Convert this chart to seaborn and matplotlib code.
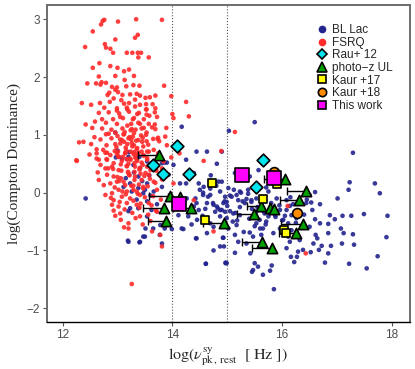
import numpy as np
import pandas as pd
import seaborn as sns
import matplotlib.pyplot as plt
from matplotlib.lines import Line2D

# --- background samples (log nu_pk, log CD) ---
fsrq_x = [12.76, 12.73, 13.01, 13.34, 13.81, 12.70, 12.55, 13.37, 13.32, 12.96, 12.41, 12.77, 12.79, 12.87,
          12.92, 13.17, 13.27, 13.37, 13.43, 13.38, 13.57, 12.67, 12.55, 12.87, 13.00, 13.21, 13.12, 12.66,
          12.96, 13.30, 13.13, 12.45, 12.61, 12.69, 12.71, 12.79, 12.90, 12.99, 13.16, 13.29, 13.40, 13.85,
          12.96, 12.85, 13.01, 12.82, 13.09, 13.23, 13.35, 13.41, 13.69, 13.59, 13.98, 12.93, 13.07, 13.32,
          13.51, 12.35, 12.52, 12.68, 12.86, 13.12, 13.21, 13.41, 13.52, 13.64, 12.76, 12.99, 13.18, 13.32,
          13.53, 13.69, 12.66, 12.84, 13.03, 13.21, 13.39, 13.53, 13.72, 14.00, 14.02, 12.59, 12.72, 12.92,
          13.10, 13.30, 13.48, 12.42, 12.54, 12.79, 12.99, 13.25, 13.41, 13.57, 13.89, 12.72, 12.89, 13.09,
          13.26, 13.44, 13.69, 12.96, 12.79, 13.11, 13.30, 13.52, 13.74, 13.87, 12.30, 12.38, 12.52, 12.69,
          12.89, 13.05, 13.20, 13.38, 13.53, 13.65, 12.80, 12.96, 13.18, 13.30, 13.47, 13.90, 12.62, 12.81,
          13.01, 13.24, 13.38, 13.57, 12.25, 12.62, 12.80, 13.02, 13.17, 13.32, 13.54, 13.84, 13.98,
          12.62, 12.78, 12.87, 12.99, 13.14, 13.29, 13.47, 13.54, 14.13, 12.26, 12.66, 12.81, 12.93, 13.08,
          13.23, 13.35, 13.44, 12.69, 12.78, 12.90, 13.02, 13.17, 13.32, 13.54, 13.60, 14.57, 12.66, 12.81,
          12.93, 13.06, 13.20, 13.32, 13.44, 13.57, 13.66, 13.81, 14.02, 12.75, 12.87, 12.99, 13.14, 13.29,
          12.90, 13.02, 13.17, 13.35, 13.47, 13.72, 12.78, 12.93, 13.08, 13.23, 13.41, 12.90, 13.02, 13.17,
          13.35, 13.57, 12.93, 13.05, 12.96, 13.41, 13.72, 14.39, 14.75, 13.12, 13.20, 13.63, 13.78, 13.81,
          13.26, 14.25, 14.30, 15.14, 14.89, 16.10, 16.43,
          13.05, 13.15, 13.25, 13.35, 13.45, 13.10, 13.20, 13.30, 13.40, 13.00, 13.13, 13.28, 13.36, 13.48,
          13.22, 13.31, 13.07, 13.17, 13.27, 13.42, 12.95, 13.12, 13.24, 13.34, 13.46, 13.03, 13.19, 13.29,
          13.05, 13.18, 13.28, 13.38, 13.48, 13.58, 13.68, 13.12, 13.22, 13.33, 13.43, 13.53, 13.63, 13.73,
          12.98, 13.08, 13.16, 13.26, 13.36, 13.46, 13.56, 13.66, 13.76, 13.02, 13.14, 13.24, 13.34, 13.44,
          13.54, 13.64, 13.74, 12.92, 13.06, 13.19, 13.31, 13.41, 13.51, 13.61, 13.71, 13.81, 13.00, 13.11,
          13.21, 13.31, 13.39, 13.49, 13.59, 13.69, 12.95, 13.09, 13.25, 13.37, 13.47, 13.55, 13.65, 12.88,
          13.04, 13.15, 13.29, 13.42, 13.50, 13.62, 13.79, 13.13, 13.27, 13.40, 13.56, 13.70, 13.06, 13.20,
          13.33, 13.46, 13.60, 12.99, 13.17, 13.36, 13.52, 13.68, 12.84, 12.74, 12.58, 12.49, 12.64, 12.83]
fsrq_y = [2.99, 2.97, 2.96, 3.00, 2.99, 2.91, 2.79, 2.73, 2.68, 2.65, 2.52, 2.57, 2.51, 2.49,
          2.42, 2.42, 2.42, 2.42, 2.42, 2.34, 2.34, 2.24, 2.16, 2.19, 2.16, 2.13, 2.10, 2.01,
          2.02, 2.02, 1.95, 1.89, 1.89, 1.87, 1.91, 1.90, 1.83, 1.82, 1.84, 1.86, 1.85, 1.85,
          1.78, 1.73, 1.74, 1.69, 1.69, 1.70, 1.71, 1.68, 1.68, 1.65, 1.67, 1.63, 1.60, 1.61,
          1.64, 1.55, 1.52, 1.55, 1.57, 1.54, 1.55, 1.52, 1.53, 1.53, 1.47, 1.46, 1.44, 1.49,
          1.44, 1.46, 1.38, 1.39, 1.37, 1.40, 1.38, 1.35, 1.31, 1.36, 1.29, 1.23, 1.27, 1.27,
          1.29, 1.29, 1.27, 1.18, 1.12, 1.21, 1.19, 1.19, 1.19, 1.19, 1.12, 1.11, 1.09, 1.11,
          1.10, 1.11, 1.10, 1.04, 1.01, 1.01, 1.03, 1.00, 0.95, 0.97, 0.87, 0.88, 0.84, 0.92,
          0.94, 0.92, 0.94, 0.91, 0.89, 0.93, 0.82, 0.84, 0.84, 0.82, 0.80, 0.82, 0.75, 0.69,
          0.71, 0.71, 0.69, 0.71, 0.56, 0.59, 0.58, 0.62, 0.58, 0.61, 0.57, 0.54, 0.61,
          0.68, 0.69, 0.65, 0.67, 0.68, 0.67, 0.65, 0.71, 0.68, 0.55, 0.57, 0.57, 0.51, 0.55,
          0.59, 0.57, 0.52, 0.48, 0.42, 0.45, 0.39, 0.46, 0.45, 0.45, 0.39, 0.55, 0.22, 0.31,
          0.28, 0.25, 0.34, 0.28, 0.22, 0.31, 0.19, 0.23, 0.16, 0.13, 0.16, 0.19, 0.13, 0.12,
          -0.01, 0.05, 0.02, 0.02, 0.10, 0.05, -0.04, -0.13, -0.07, -0.10, -0.04, -0.21, -0.24, -0.18,
          -0.21, -0.18, -0.31, -0.36, -0.40, -0.41, -0.33, -0.13, -0.67, -0.60, -0.62, -0.67, -0.73, -0.93,
          -1.58, 1.57, 1.32, 1.05, 0.72, -0.23, -1.05,
          0.85, 0.78, 0.92, 0.75, 0.88, 0.62, 0.50, 0.70, 0.40, 0.98, 1.05, 0.97, 0.55, 0.64,
          0.30, 0.36, 0.38, 0.46, 0.80, 0.33, 0.72, 0.88, 1.08, 0.90, 0.48, 0.20, 0.58, 0.05,
          1.31, 1.16, 1.27, 1.21, 1.12, 1.33, 1.18, 1.01, 0.96, 1.09, 0.99, 1.04, 1.13, 0.93,
          0.79, 0.91, 0.73, 0.86, 0.77, 0.95, 0.83, 0.74, 0.89, 0.62, 0.69, 0.57, 0.66, 0.71,
          0.60, 0.52, 0.68, 0.41, 0.49, 0.36, 0.51, 0.43, 0.34, 0.47, 0.38, 0.42, 0.27, 0.19,
          0.31, 0.22, 0.14, 0.29, 0.24, 0.17, 0.09, 0.02, 0.12, -0.02, 0.07, 0.11, -0.06, -0.09,
          -0.16, -0.03, -0.14, -0.19, -0.08, -0.22, -0.12, -0.29, -0.35, -0.26, -0.38, -0.31, -0.47, -0.53,
          -0.44, -0.55, -0.49, 1.42, 1.47, 1.36, 1.44, 1.39, 1.02, 0.74, 0.96, 0.66, 0.35, 0.42]

bllac_x = [15.50, 15.03, 17.29, 15.57, 15.14, 15.41, 14.90, 15.02, 15.12, 15.23, 15.38, 15.71, 17.23, 17.21,
           17.69, 17.78, 17.01, 16.60, 16.50, 14.96, 15.08, 15.17, 15.20, 15.35, 15.44, 15.53, 15.00, 15.23,
           15.32, 15.44, 16.08, 16.14, 16.44, 16.53, 16.69, 14.90, 15.11, 15.53, 15.68, 15.75, 15.87, 15.96,
           16.08, 16.17, 16.26, 16.32, 16.87, 16.96, 17.10, 17.26, 17.49, 17.92, 14.99, 15.23, 15.59, 15.71,
           16.02, 16.11, 16.60, 16.69, 16.84, 14.90, 15.02, 15.17, 15.53, 15.65, 15.96, 16.17, 16.50, 16.61,
           16.64, 16.84, 17.07, 17.12, 17.29, 17.09, 14.93, 15.14, 15.41, 15.47, 15.62, 15.84, 16.11, 16.14,
           16.32, 16.57, 16.72, 16.89, 17.31, 17.90, 14.94, 15.20, 15.35, 15.14, 15.42, 16.08, 16.29, 16.38,
           16.52, 16.67, 16.84, 16.16, 16.27, 16.22, 14.97, 15.50, 15.56, 15.81, 15.47, 15.45, 15.78, 15.65,
           16.78, 17.22, 17.54, 17.74, 15.85,
           12.97, 13.02, 13.08, 13.20, 13.35, 13.29, 13.41, 13.54, 13.38, 13.23, 13.11, 13.26, 13.38, 13.47,
           13.54, 13.66, 13.81, 13.81, 13.90, 14.02, 13.93, 14.14, 14.25, 14.25, 14.63, 14.90, 14.81, 14.48,
           14.57, 14.56, 14.69, 14.69, 14.84, 14.87, 14.75, 14.81, 14.93, 14.63, 14.48, 14.42, 14.39, 14.78,
           14.87, 14.96, 14.45, 14.69, 14.75, 14.63, 14.43, 14.20, 13.99, 13.78, 13.54, 13.51, 13.47, 13.19,
           13.40, 13.81, 12.42, 14.11, 14.92, 14.75, 14.61, 14.97, 14.29, 13.54, 13.23, 13.20, 13.38,
           12.96, 13.00, 13.21, 13.17, 13.40, 13.86, 14.17, 14.44,
           14.61, 14.99, 14.87, 14.44, 14.17, 13.50, 13.41, 13.20, 13.77, 13.86, 13.65, 14.50, 14.56, 14.65,
           14.44, 14.74, 14.83, 14.99, 15.05, 14.87, 14.26, 14.39,
           13.30, 13.45, 13.60, 13.70, 13.35, 13.50, 13.62, 13.15, 13.72, 13.58,
           15.05, 15.15, 15.28, 15.40, 15.55, 15.70, 15.90, 16.05, 16.20, 16.35, 16.55, 15.10, 15.25, 15.45,
           15.60, 15.80, 16.00, 16.15, 16.40, 15.30, 15.50, 15.75, 15.95, 16.25, 16.45, 14.95, 15.18, 15.38,
           15.66, 15.88, 14.30, 14.55, 14.70, 14.35, 14.60, 14.80]
bllac_y = [1.22, 1.07, 0.69, 0.39, 0.34, 0.28, 0.19, 0.08, 0.05, 0.02, 0.05, 0.09, 0.18, 0.05,
           0.16, -0.01, -0.10, 0.01, -0.04, -0.07, -0.07, -0.04, -0.13, -0.11, -0.13, -0.10, -0.23, -0.25,
           -0.18, -0.16, -0.13, -0.23, -0.18, -0.17, -0.20, -0.30, -0.36, -0.33, -0.36, -0.41, -0.39, -0.30,
           -0.30, -0.39, -0.44, -0.39, -0.39, -0.46, -0.40, -0.40, -0.37, -0.40, -0.44, -0.39, -0.47, -0.50,
           -0.47, -0.53, -0.46, -0.53, -0.54, -0.59, -0.62, -0.56, -0.53, -0.62, -0.62, -0.65, -0.59, -0.73,
           -0.79, -0.70, -0.62, -0.70, -0.72, -0.88, -0.78, -0.73, -0.69, -0.76, -0.73, -0.70, -0.76, -0.85,
           -0.82, -0.88, -0.92, -0.92, -0.90, -0.77, -0.93, -0.85, -0.88, -1.04, -1.05, -0.96, -1.02, -0.99,
           -1.03, -0.99, -1.05, -1.11, -1.11, -1.20, -1.22, -1.22, -1.28, -1.26, -1.34, -1.37, -1.35, -1.42,
           -1.21, -1.23, -1.31, -1.10, -1.67,
           0.61, 0.62, 0.59, 0.62, 0.62, 0.48, 0.42, 0.54, 0.28, 0.16, 0.10, 0.02, 0.08, -0.01,
           0.16, 0.02, 0.10, 0.51, 0.52, 0.48, 0.31, 0.16, 0.16, 0.57, 0.71, 0.71, 0.50, 0.16,
           0.10, 0.00, 0.07, -0.04, 0.19, 0.02, -0.21, -0.24, -0.18, -0.18, -0.30, -0.10, -0.24, -0.33,
           -0.30, -0.33, -0.47, -0.53, -0.59, -0.70, -0.79, -0.63, -0.63, -0.56, -0.41, -0.62, -0.76, -0.83,
           -0.86, -0.88, -0.10, -0.39, -0.78, -1.00, -1.23, -1.21, -0.41, -0.15, -0.27, -0.32, -0.27,
           1.04, 0.73, 0.70, 0.58, 0.62, 0.52, 1.14, 0.71,
           -1.23, -1.22, -0.93, -0.79, -0.62, -0.76, -0.85, -0.85, -0.73, -0.62, -0.62, 0.05, -0.04, -0.07,
           -0.18, -0.18, -0.27, -0.16, -0.32, -0.41, -0.10, 0.34,
           0.35, 0.20, -0.05, 0.40, -0.12, 0.05, -0.30, 0.25, -0.20, 0.30,
           -0.05, -0.35, -0.15, -0.45, -0.25, -0.55, -0.10, -0.40, -0.20, -0.60, -0.30, -0.50, 0.00, -0.28,
           -0.62, -0.18, -0.48, -0.08, -0.38, -0.68, -0.58, 0.02, -0.22, -0.52, -0.12, -0.15, -0.48, -0.02,
           -0.32, -0.42, 0.25, -0.40, 0.30, -0.55, -0.28, 0.12]

# --- highlighted samples ---
rau_x = [14.08, 13.64, 13.83, 14.30, 15.65, 15.52]
rau_y = [0.80, 0.48, 0.32, 0.33, 0.57, 0.10]

ul_x = [13.75, 13.96, 14.14, 14.34, 13.85, 13.89, 14.94, 15.62, 15.78, 15.85, 15.49,
        16.06, 16.43, 16.30, 16.38, 16.25, 15.64, 15.81]
ul_y = [0.65, -0.05, -0.07, -0.26, -0.26, -0.49, -0.52, -0.23, -0.27, -0.28, -0.37,
        0.24, 0.03, -0.13, -0.54, -0.69, -0.85, -0.95]
ul_lo = [13.37, 13.58, 13.92, 14.02, 13.46, 13.55, 14.55, 15.36, 15.78, 15.85, 15.17,
         15.67, 16.08, 15.96, 15.98, 15.95, 15.26, 15.45]

k17_x = [14.73, 14.59, 15.65, 15.91, 16.03, 16.07]
k17_y = [0.16, -0.47, -0.11, 0.15, -0.65, -0.70]

k18_x = [15.85, 16.27]
k18_y = [0.36, -0.35]

tw_x = [15.27, 15.85, 14.12]
tw_y = [0.31, 0.26, -0.20]

sns.set_theme(style="white")
plt.rcParams["font.family"] = ["Liberation Sans", "DejaVu Sans"]
plt.rcParams["mathtext.fontset"] = "stix"

fig = plt.figure(figsize=(4.15, 3.69), dpi=100)
ax = fig.add_axes([0.1125, 0.127, 0.8755, 0.860])

bg = pd.concat([
    pd.DataFrame({"nu": bllac_x, "cd": bllac_y, "cls": "BL Lac"}),
    pd.DataFrame({"nu": fsrq_x, "cd": fsrq_y, "cls": "FSRQ"}),
])
pal = {"BL Lac": "#23238e", "FSRQ": "#ff2a2a"}
sns.scatterplot(data=bg, x="nu", y="cd", hue="cls", palette=pal, s=11,
                linewidth=0, alpha=0.9, legend=False, ax=ax, zorder=2)

ax.axvline(14, color="#555555", ls=":", lw=0.8, zorder=1)
ax.axvline(15, color="#555555", ls=":", lw=0.8, zorder=1)

ul_x_arr = np.array(ul_x)
ax.errorbar(ul_x, ul_y, xerr=[ul_x_arr - np.array(ul_lo), np.zeros(len(ul_x))],
            fmt="none", ecolor="black", elinewidth=1.0, capsize=3, capthick=1.0, zorder=3)

ek = dict(edgecolor="black", linewidth=1.2, legend=False, ax=ax)
sns.scatterplot(x=rau_x, y=rau_y, marker="D", color="#00e5ee", s=42, zorder=4, **ek)
sns.scatterplot(x=ul_x, y=ul_y, marker="^", color="#00a000", s=55, zorder=5, **ek)
sns.scatterplot(x=k17_x, y=k17_y, marker="s", color="#ffff00", s=38, zorder=6, **ek)
sns.scatterplot(x=k18_x, y=k18_y, marker="o", color="#ff8c00", s=50, zorder=6, **ek)
sns.scatterplot(x=tw_x, y=tw_y, marker="s", color="#ff00ff", s=90, zorder=7, **ek)

ax.set_xlim(11.71, 18.33)
ax.set_ylim(-2.24, 3.25)
ax.set_xticks([12, 14, 16, 18])
ax.set_yticks([-2, -1, 0, 1, 2, 3])
ax.tick_params(direction="out", length=3, width=0.8, color="#555555",
               labelcolor="#4d4d4d", labelsize=8.5, pad=2, left=True, bottom=True)

for side in ["left", "top", "right"]:
    ax.spines[side].set_color("#6e6e6e")
    ax.spines[side].set_linewidth(1.4)
ax.spines["bottom"].set_color("black")
ax.spines["bottom"].set_linewidth(1.0)

ax.set_xlabel(r"$\log(\nu^{\rm sy}_{\rm pk\,,\,rest}\ \ [\ {\rm Hz}\ ])$", fontsize=11.5, labelpad=3)
ax.set_ylabel("log(Compton Dominance)", family="Liberation Serif", fontsize=11, labelpad=4)

hk = dict(linestyle="none", markeredgecolor="black", markeredgewidth=1.2)
handles = [
    Line2D([], [], marker="o", color="#23238e", markersize=4.5, linestyle="none", label="BL Lac"),
    Line2D([], [], marker="o", color="#ff2a2a", markersize=4.5, linestyle="none", label="FSRQ"),
    Line2D([], [], marker="D", color="#00e5ee", markersize=5.5, label="Rau+ 12", **hk),
    Line2D([], [], marker="^", color="#00a000", markersize=6.5, label="photo\u2212z UL", **hk),
    Line2D([], [], marker="s", color="#ffff00", markersize=5.5, label="Kaur +17", **hk),
    Line2D([], [], marker="o", color="#ff8c00", markersize=6, label="Kaur +18", **hk),
    Line2D([], [], marker="s", color="#ff00ff", markersize=5.5, label="This work", **hk),
]
ax.legend(handles=handles, loc="upper left", bbox_to_anchor=(0.72, 0.965), frameon=False,
          fontsize=8.5, labelspacing=0.05, handletextpad=0.3, handlelength=1.0,
          borderpad=0.2)

fig.savefig("out.png", dpi=100)
